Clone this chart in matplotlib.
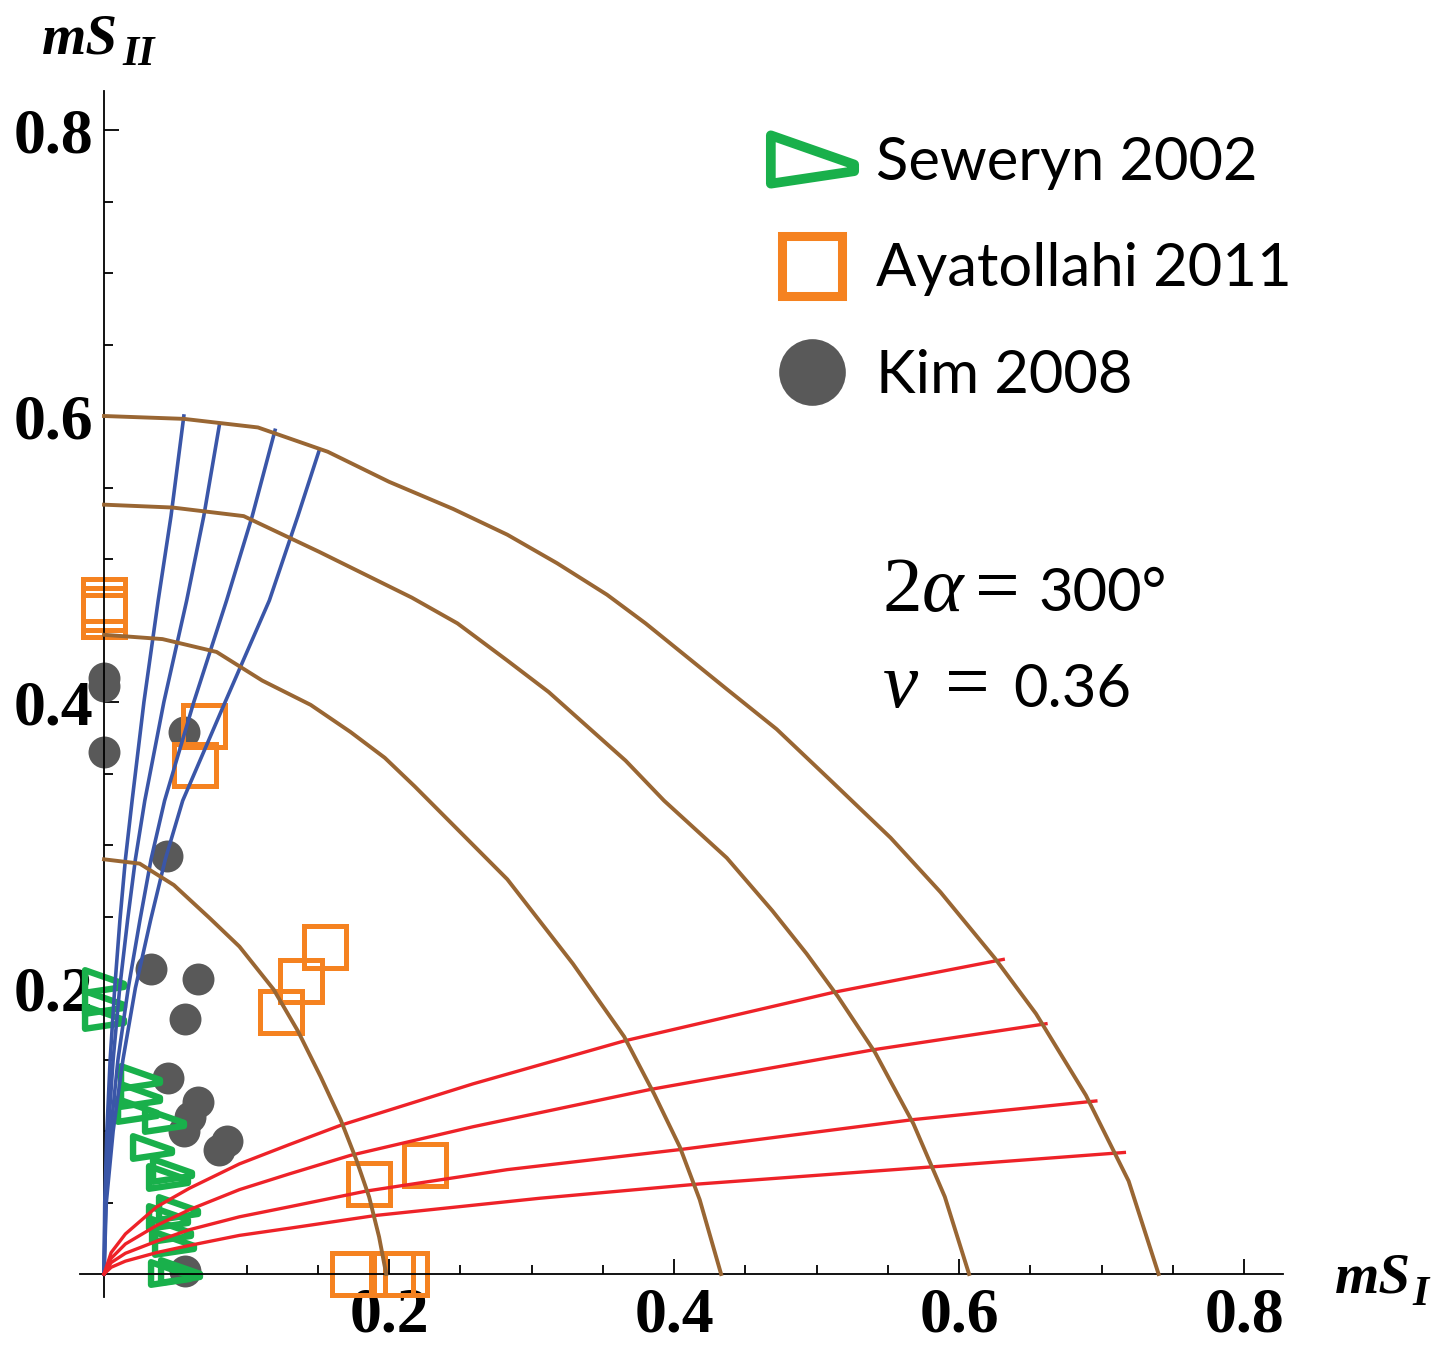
import numpy as np
import matplotlib.pyplot as plt
from matplotlib.path import Path
from matplotlib.lines import Line2D

plt.rcParams['mathtext.fontset'] = 'custom'
plt.rcParams['mathtext.rm'] = 'Liberation Serif'
plt.rcParams['mathtext.it'] = 'Liberation Serif:italic'
plt.rcParams['mathtext.bf'] = 'Liberation Serif:bold'

# experimental points
seweryn_x = [0.0, 0.0, 0.0, 0.025, 0.025, 0.023, 0.042, 0.034, 0.048, 0.045,
             0.052, 0.045, 0.047, 0.049, 0.046, 0.053]
seweryn_y = [0.205, 0.190, 0.180, 0.138, 0.125, 0.115, 0.108, 0.089, 0.073, 0.068,
             0.046, 0.040, 0.031, 0.022, 0.001, 0.002]

ayat_x = [0.0, 0.0, 0.0, 0.070, 0.064, 0.124, 0.138, 0.155, 0.186, 0.225,
          0.175, 0.202, 0.212]
ayat_y = [0.471, 0.465, 0.460, 0.383, 0.356, 0.183, 0.205, 0.229, 0.063, 0.076,
          0.0, 0.0, 0.0]

kim_x = [0.0, 0.0, 0.0, 0.056, 0.044, 0.033, 0.066, 0.057, 0.045, 0.066,
         0.060, 0.056, 0.086, 0.081, 0.057]
kim_y = [0.417, 0.411, 0.365, 0.379, 0.292, 0.213, 0.206, 0.178, 0.137, 0.120,
         0.110, 0.100, 0.093, 0.087, 0.002]

# failure contours (brown)
arc1_x = [0, 0.056, 0.108, 0.157, 0.200, 0.245, 0.283, 0.318, 0.353, 0.380, 0.411,
          0.437, 0.472, 0.509, 0.552, 0.587, 0.625, 0.654, 0.689, 0.719, 0.740]
arc1_y = [0.600, 0.598, 0.592, 0.575, 0.554, 0.535, 0.517, 0.497, 0.475, 0.455, 0.430,
          0.409, 0.381, 0.346, 0.305, 0.267, 0.221, 0.182, 0.125, 0.065, 0.0]
arc2_x = [0, 0.048, 0.098, 0.151, 0.216, 0.248, 0.283, 0.312, 0.366, 0.393, 0.437,
          0.469, 0.493, 0.515, 0.541, 0.568, 0.590, 0.607]
arc2_y = [0.538, 0.536, 0.530, 0.505, 0.473, 0.455, 0.429, 0.407, 0.359, 0.331, 0.291,
          0.254, 0.224, 0.194, 0.155, 0.105, 0.054, 0.0]
arc3_x = [0, 0.041, 0.079, 0.111, 0.145, 0.173, 0.197, 0.218, 0.283, 0.329, 0.365,
          0.386, 0.404, 0.418, 0.433]
arc3_y = [0.447, 0.444, 0.435, 0.415, 0.398, 0.379, 0.361, 0.341, 0.276, 0.217, 0.166,
          0.126, 0.089, 0.052, 0.0]
arc4_x = [0, 0.025, 0.049, 0.074, 0.095, 0.119, 0.136, 0.152, 0.166, 0.177, 0.186,
          0.193, 0.198]
arc4_y = [0.290, 0.287, 0.272, 0.249, 0.229, 0.199, 0.170, 0.138, 0.108, 0.080, 0.054,
          0.026, 0.0]
arcs = [(arc1_x, arc1_y), (arc2_x, arc2_y), (arc3_x, arc3_y), (arc4_x, arc4_y)]

# loading paths near mode II (blue)
blue_y = [0, 0.05, 0.10, 0.15, 0.20, 0.248, 0.29, 0.331, 0.40, 0.471, 0.53]
blue1_x = [0, 0.0005, 0.002, 0.0043, 0.0075, 0.0112, 0.015, 0.0197, 0.028, 0.038, 0.047,
           0.056]
blue1_y = blue_y + [0.600]
blue2_x = [0, 0.0008, 0.003, 0.0064, 0.011, 0.0166, 0.022, 0.0286, 0.042, 0.058, 0.070,
           0.081]
blue2_y = blue_y + [0.594]
blue3_x = [0, 0.0012, 0.0047, 0.0098, 0.017, 0.0253, 0.033, 0.0425, 0.063, 0.086, 0.104,
           0.120]
blue3_y = blue_y + [0.590]
blue4_x = [0, 0.0016, 0.0064, 0.0133, 0.022, 0.0328, 0.043, 0.0552, 0.085, 0.116, 0.136,
           0.151]
blue4_y = blue_y + [0.576]
blues = [(blue1_x, blue1_y), (blue2_x, blue2_y), (blue3_x, blue3_y), (blue4_x, blue4_y)]

# loading paths near mode I (red)
red_x = [0, 0.005, 0.015, 0.037, 0.060, 0.095, 0.130]
red1_x = red_x + [0.166, 0.259, 0.365, 0.512, 0.631]
red1_y = [0, 0.015, 0.028, 0.047, 0.060, 0.077, 0.0905, 0.104, 0.133, 0.163, 0.197, 0.220]
red2_x = red_x + [0.173, 0.259, 0.383, 0.541, 0.661]
red2_y = [0, 0.011, 0.021, 0.034, 0.045, 0.059, 0.070, 0.083, 0.103, 0.129, 0.157, 0.175]
red3_x = red_x + [0.184, 0.283, 0.404, 0.568, 0.696]
red3_y = [0, 0.008, 0.0145, 0.023, 0.031, 0.040, 0.047, 0.058, 0.073, 0.087, 0.108, 0.121]
red4_x = red_x + [0.191, 0.306, 0.418, 0.582, 0.716]
red4_y = [0, 0.0047, 0.009, 0.015, 0.020, 0.027, 0.032, 0.041, 0.053, 0.063, 0.075, 0.085]
reds = [(red1_x, red1_y), (red2_x, red2_y), (red3_x, red3_y), (red4_x, red4_y)]

ticks = [0.2, 0.4, 0.6, 0.8]
tick_labels = ['0.2', '0.4', '0.6', '0.8']

green = '#19b04b'
orange = '#f58220'
gray = '#595959'
brown = '#996633'
blue = '#3a56a8'
red = '#ee2228'

# right-pointing triangle, slightly drooping tip
tri = Path([(-1, 0.58), (1, -0.12), (1, -0.28), (-1, -0.58), (-1, 0.58)],
           [Path.MOVETO, Path.LINETO, Path.LINETO, Path.LINETO, Path.CLOSEPOLY])

fig = plt.figure(figsize=(14.47, 13.6), dpi=100)
ax = fig.add_axes([0.05515, 0.0464, 0.8312, 0.8864])
ax.set_xlim(-0.017, 0.827)
ax.set_ylim(-0.016, 0.827)

ax.plot(kim_x, kim_y, ls='none', marker='o', ms=23, mfc=gray, mew=0,
        clip_on=False, zorder=2)
ax.plot(ayat_x, ayat_y, ls='none', marker='s', ms=30, mfc='none', mec=orange,
        mew=3.6, clip_on=False, zorder=2.1)
ax.plot(seweryn_x, seweryn_y, ls='none', marker=tri, ms=28, mfc='none', mec=green,
        mew=4.6, clip_on=False, zorder=2.2)

for xs, ys in blues:
    ax.plot(xs, ys, color=blue, lw=2.6, zorder=3)
for xs, ys in reds:
    ax.plot(xs, ys, color=red, lw=2.4, zorder=3)
for xs, ys in arcs:
    ax.plot(xs, ys, color=brown, lw=2.8, zorder=3.1)

for side in ['top', 'right']:
    ax.spines[side].set_visible(False)
for side in ['left', 'bottom']:
    ax.spines[side].set_position(('data', 0))
    ax.spines[side].set_linewidth(1.3)

ax.set_xticks(ticks, labels=tick_labels, fontfamily='Liberation Serif',
              fontweight='bold', fontsize=46)
ax.set_yticks(ticks, labels=tick_labels, fontfamily='Liberation Serif',
              fontweight='bold', fontsize=46)
ax.set_xticks(np.arange(0.05, 0.81, 0.05), minor=True)
ax.set_yticks(np.arange(0.05, 0.81, 0.05), minor=True)
ax.tick_params(which='major', direction='in', length=11, width=1.3)
ax.tick_params(which='minor', direction='in', length=6.5, width=1.3)
ax.tick_params(axis='x', which='major', pad=10)
ax.tick_params(axis='y', which='major', pad=8)

# axis names, subscripts drawn as separate pieces
lab = dict(fontfamily='Liberation Serif', fontweight='bold', fontstyle='italic',
           va='baseline')
fig.text(0.0288, 0.961, 'mS', fontsize=41, **lab)
fig.text(0.0845, 0.9522, 'II', fontsize=30, **lab)
fig.text(0.9226, 0.0493, 'mS', fontsize=41, **lab)
fig.text(0.9760, 0.0404, 'I', fontsize=30, **lab)

# material parameters
ax.text(0.5458, 0.4636, r'$2\alpha$', fontsize=57, va='baseline')
ax.text(0.6112, 0.4636, '=', fontsize=57, fontfamily='Liberation Serif', va='baseline')
ax.text(0.6554, 0.4636, '300°', fontsize=43, fontfamily='Lato', va='baseline')
ax.text(0.546, 0.3965, r'$\nu$', fontsize=57, va='baseline')
ax.text(0.590, 0.3965, '=', fontsize=57, fontfamily='Liberation Serif', va='baseline')
ax.text(0.6379, 0.3965, '0.36', fontsize=43, fontfamily='Lato', va='baseline')

handles = [
    Line2D([], [], ls='none', marker=tri, ms=60, mfc='none', mec=green, mew=7),
    Line2D([], [], ls='none', marker='s', ms=43, mfc='none', mec=orange, mew=6.5),
    Line2D([], [], ls='none', marker='o', ms=48, mfc=gray, mew=0),
]
ax.legend(handles, ['Seweryn 2002', 'Ayatollahi 2011', 'Kim 2008'],
          loc='upper left', bbox_to_anchor=(0.532, 0.9003), bbox_transform=fig.transFigure,
          frameon=False, prop={'family': 'Lato', 'size': 43},
          handlelength=1.4, handletextpad=0.38, labelspacing=0.885,
          borderpad=0, borderaxespad=0)

fig.savefig('out.png', dpi=100)
